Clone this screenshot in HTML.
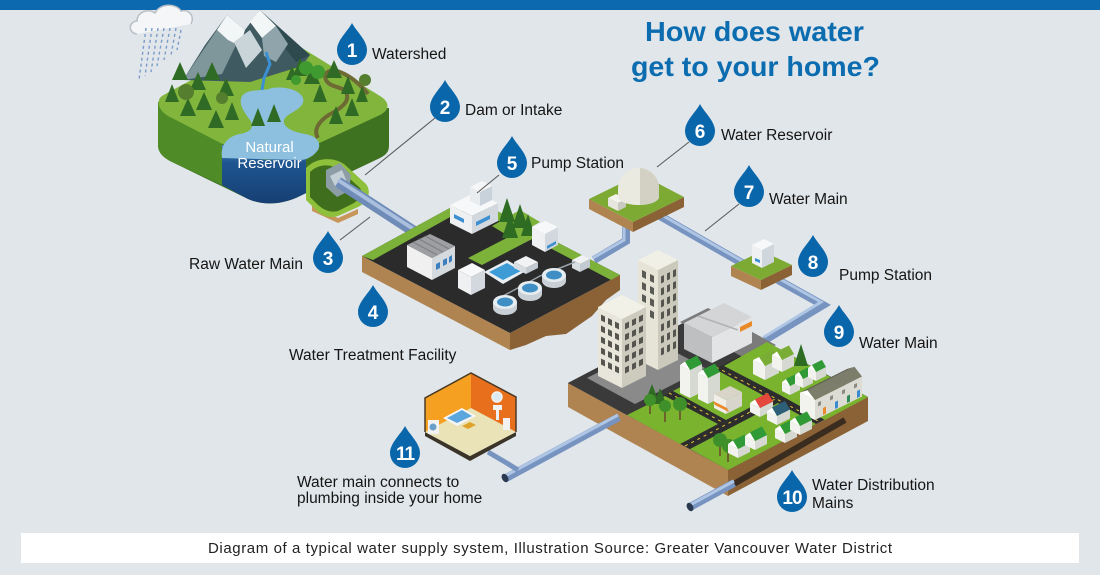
<!DOCTYPE html>
<html><head><meta charset="utf-8"><style>
html,body{margin:0;padding:0;background:#e1e6ea;}
svg{display:block;}
text{font-family:"Liberation Sans",sans-serif;}
</style></head><body>
<svg width="1100" height="575" viewBox="0 0 1100 575" xmlns="http://www.w3.org/2000/svg">
<defs>
<linearGradient id="ww" x1="0" y1="0" x2="0" y2="1"><stop offset="0" stop-color="#4a8fc9"/><stop offset="0.3" stop-color="#1f5590"/><stop offset="1" stop-color="#163f73"/></linearGradient>
<path id="drop" d="M0,-27 C4,-19 15,-10 15,0 A15,15 0 0 1 -15,0 C-15,-10 -4,-19 0,-27 Z"/>
</defs>
<rect width="1100" height="575" fill="#e1e6ea"/>
<rect x="0" y="0" width="1100" height="10" fill="#0c69b0"/>

<!-- cloud and rain -->
<path d="M137,34 C128,33 128,22 137,21 C137,12 148,8 155,13 C160,3 176,3 181,11 C189,9 195,16 191,24" fill="#f4f6f8" stroke="#b9c0c6" stroke-width="1.5"/>
<g stroke="#7b9bc8" stroke-width="1.4" stroke-dasharray="3,3">
<line x1="146" y1="28" x2="139" y2="80"/><line x1="152" y1="28" x2="145" y2="76"/><line x1="158" y1="28" x2="151" y2="72"/><line x1="164" y1="28" x2="157" y2="66"/><line x1="170" y1="28" x2="164" y2="60"/><line x1="176" y1="28" x2="171" y2="55"/><line x1="181" y1="30" x2="177" y2="50"/>
</g>

<!-- island -->
<path d="M158,102 L158,145 C158,153 164,158 172,162 L246,198 C262,206 282,205 300,196 L380,158 C388,154 389,150 389,145 L389,108 Z" fill="#3e7220"/>
<path d="M158,102 L158,145 C158,153 164,158 172,162 L222,185 L222,140 L168,116 Z" fill="#4f8c27"/>
<path d="M222,145 L222,185 L246,198 C262,206 282,205 300,196 L306,193 L306,145 Z" fill="url(#ww)"/>
<path d="M162,96 C190,80 235,58 268,44 C280,40 292,42 302,48 L380,96 C390,102 390,110 380,115 L300,152 C282,160 262,162 246,156 L168,116 C158,110 156,100 162,96 Z" fill="#82b53c"/>
<!-- mountains -->
<path d="M183,80 L205,45 L227,15 L245,30 L260,10 L285,35 L310,55 L302,66 L250,82 Z" fill="#3f5a60"/>
<path d="M183,80 L227,15 L236,45 L222,74 Z" fill="#7f969b"/>
<path d="M260,10 L310,55 L296,62 L272,32 Z" fill="#2f4a4f"/>
<path d="M217,30 L227,15 L245,30 L240,46 L228,40 Z" fill="#f3f6f7"/>
<path d="M250,22 L260,10 L276,26 L262,38 Z" fill="#f3f6f7"/>
<path d="M234,42 L250,30 L262,50 L246,68 Z" fill="#c9d5d8"/>
<path d="M262,38 L276,26 L288,44 L276,62 L264,56 Z" fill="#8fa5ab"/>
<path d="M266,52 L270,64 L264,78 L262,90" fill="none" stroke="#3b8fd3" stroke-width="3"/>
<!-- lake -->
<path d="M222,158 C220,145 228,136 240,134 C250,132 255,128 250,120 C244,112 238,104 242,96 C248,88 262,92 272,88 C285,86 300,90 303,98 C306,108 290,112 285,118 C280,126 292,132 305,134 C316,136 322,142 318,150 C312,158 305,160 300,160 Z" fill="#8cc0de"/>
<!-- trail -->
<path d="M318,138 C312,128 322,118 334,112 C344,106 350,100 346,92 C342,86 330,88 326,80 C322,72 332,68 340,72 C350,76 360,84 368,94" fill="none" stroke="#6d6a33" stroke-width="4"/>
<!-- island trees -->
<g fill="#2f6b24">
<polygon points="180,62 172,80 188,80"/><polygon points="198,72 190,90 206,90"/><polygon points="212,62 204,80 220,80"/><polygon points="226,78 218,96 234,96"/><polygon points="204,92 196,110 212,110"/><polygon points="188,98 180,116 196,116"/><polygon points="232,102 225,120 239,120"/><polygon points="258,108 251,126 265,126"/><polygon points="274,104 267,122 281,122"/><polygon points="312,66 304,84 320,84"/><polygon points="320,84 313,102 327,102"/><polygon points="334,60 326,78 342,78"/><polygon points="348,76 341,94 355,94"/><polygon points="352,98 345,116 359,116"/><polygon points="336,106 329,124 343,124"/><polygon points="300,58 293,76 307,76"/><polygon points="216,110 208,128 224,128"/><polygon points="172,84 165,102 179,102"/><polygon points="362,86 356,102 368,102"/><polygon points="292,66 286,80 298,80"/>
</g>
<g fill="#557f2e"><circle cx="186" cy="92" r="8"/><circle cx="222" cy="98" r="6"/><circle cx="365" cy="80" r="6"/></g>
<g fill="#3f9a2f"><circle cx="306" cy="68" r="7"/><circle cx="318" cy="72" r="7"/><circle cx="296" cy="80" r="5"/></g>
<!-- dam protrusion -->
<path d="M312,206 L338,218 L358,209 L358,214 L338,223 L312,211 Z" fill="#c8955a"/>
<path d="M306,168 C315,158 332,156 344,164 L366,184 C372,192 368,202 358,207 L338,216 C330,219 322,216 316,210 L306,200 Z" fill="#8fc03c"/>
<path d="M310,172 C318,164 330,163 340,170 L360,188 C363,194 360,200 352,204 L338,211 C330,213 324,210 318,205 L310,197 Z" fill="#3f6e1d"/>
<path d="M326,170 L340,163 L351,175 L349,191 L337,197 L326,187 Z" fill="#8d9da6"/>
<path d="M330,176 L342,170 L347,182 L336,188 Z" fill="#c5d0d6"/>
<text x="269.5" y="152" font-size="15" fill="#ffffff" text-anchor="middle">Natural</text>
<text x="269.5" y="168" font-size="15" fill="#ffffff" text-anchor="middle">Reservoir</text>

<!-- raw water pipe -->
<line x1="338" y1="182" x2="418" y2="234" stroke="#6f8cb8" stroke-width="11"/>
<line x1="338" y1="180" x2="418" y2="232" stroke="#a9bfdd" stroke-width="4"/>

<!-- pipe plant -> reservoir -->
<polyline points="594,260 626,241 626,222" fill="none" stroke="#7793c0" stroke-width="8"/>
<polyline points="593,258 624,240 624,222" fill="none" stroke="#aec5e4" stroke-width="3"/>
<!-- pipe reservoir -> pump8 -->
<line x1="660" y1="216" x2="742" y2="263" stroke="#7793c0" stroke-width="8"/>
<line x1="660" y1="214" x2="742" y2="261" stroke="#aec5e4" stroke-width="3"/>
<!-- pipe pump8 -> city -->
<polyline points="778,280 823,305 765,340" fill="none" stroke="#7793c0" stroke-width="8"/>
<polyline points="778,278 821,302 764,337" fill="none" stroke="#aec5e4" stroke-width="3"/>

<!-- treatment plant -->
<polygon points="362,256 510,333 510,350 362,272" fill="#b08450"/>
<polygon points="510,333 620,275 620,290 606,300 592,316 566,334 546,336 526,345 510,350" fill="#8a6236"/>
<polygon points="362,256 470,197 620,275 510,333" fill="#2b2b2b"/>
<polygon points="362,256 470,197 620,275 611,280 470,206 373,260" fill="#7cb13a"/>
<polygon points="468,258 522,230 536,237 482,265" fill="#7cb13a"/>
<polygon points="492,226 520,210 540,222 512,238" fill="#7cb13a"/>
<g fill="#2e6b23"><polygon points="507,198 499,222 515,222"/><polygon points="520,204 512,228 528,228"/><polygon points="510,214 502,238 518,238"/><polygon points="528,214 521,236 535,236"/></g>
<!-- pump station 5 -->
<polygon points="450,205 472,216 472,234 450,223" fill="#eef0f2"/>
<polygon points="472,216 498,203 498,221 472,234" fill="#d2d8de"/>
<polygon points="450,205 472,216 498,203 476,192" fill="#f7f8f9"/>
<polygon points="470,187 480,192 480,206 470,201" fill="#e9edf0"/>
<polygon points="480,192 492,186 492,200 480,206" fill="#c9d2da"/>
<polygon points="470,187 480,192 492,186 482,181" fill="#f5f6f7"/>
<polygon points="476,222 490,215 490,219 476,226" fill="#3c8fd0"/>
<polygon points="454,214 464,219 464,223 454,218" fill="#3c8fd0"/>
<!-- warehouse -->
<polygon points="407,245 432,258 432,280 407,267" fill="#f0f0f0"/>
<polygon points="432,258 455,246 455,268 432,280" fill="#d5dadf"/>
<polygon points="407,245 432,258 455,246 430,234" fill="#9d9fa2"/>
<g stroke="#7d7f82" stroke-width="1"><line x1="413" y1="242" x2="437" y2="255"/><line x1="419" y1="239" x2="443" y2="252"/><line x1="425" y1="236" x2="449" y2="249"/></g>
<g fill="#3c7fc0"><polygon points="436,264 440,262 440,268 436,270"/><polygon points="443,260 447,258 447,264 443,266"/><polygon points="449,257 452,255 452,261 449,263"/></g>
<!-- small building -->
<polygon points="458,270 471,277 471,295 458,288" fill="#eef0f2"/>
<polygon points="471,277 485,270 485,288 471,295" fill="#d2d8de"/>
<polygon points="458,270 471,277 485,270 472,263" fill="#f7f8f9"/>
<!-- right building -->
<polygon points="532,227 545,234 545,252 532,245" fill="#eef0f2"/>
<polygon points="545,234 558,227 558,245 545,252" fill="#d2d8de"/>
<polygon points="532,227 545,234 558,227 545,221" fill="#f7f8f9"/>
<polygon points="547,246 556,241 556,244 547,249" fill="#3c8fd0"/>
<!-- pool -->
<polygon points="484,272 507,260 526,271 503,284" fill="#e8eef2"/>
<polygon points="489,272 507,263 521,271 503,280" fill="#3d9bd6"/>
<!-- equipment -->
<polygon points="514,262 526,268 538,262 526,256" fill="#f0f2f4"/><polygon points="514,262 526,268 526,274 514,268" fill="#d8dde2"/><polygon points="526,268 538,262 538,268 526,274" fill="#c3cad1"/>
<polygon points="572,260 580,264 590,259 582,255" fill="#f0f2f4"/><polygon points="572,260 580,264 580,272 572,268" fill="#d8dde2"/><polygon points="580,264 590,259 590,267 580,272" fill="#c3cad1"/>
<polyline points="503,296 540,276 575,262" fill="none" stroke="#9aa3aa" stroke-width="1.5"/>
<!-- clarifiers -->
<g>
<path d="M493,302 L493,308 A12,7 0 0 0 517,308 L517,302 Z" fill="#c8d0d6"/><ellipse cx="505" cy="302" rx="12" ry="7" fill="#e6edf1"/><ellipse cx="505" cy="302" rx="8" ry="4.5" fill="#3f8fc4"/>
<path d="M518,288 L518,294 A12,7 0 0 0 542,294 L542,288 Z" fill="#c8d0d6"/><ellipse cx="530" cy="288" rx="12" ry="7" fill="#e6edf1"/><ellipse cx="530" cy="288" rx="8" ry="4.5" fill="#3f8fc4"/>
<path d="M542,275 L542,281 A12,7 0 0 0 566,281 L566,275 Z" fill="#c8d0d6"/><ellipse cx="554" cy="275" rx="12" ry="7" fill="#e6edf1"/><ellipse cx="554" cy="275" rx="8" ry="4.5" fill="#3f8fc4"/>
</g>

<!-- water reservoir slab -->
<polygon points="589,199 633,222 633,232 589,209" fill="#b08450"/>
<polygon points="633,222 684,197 684,207 633,232" fill="#8a6236"/>
<polygon points="589,199 640,174 684,197 633,222" fill="#7caa33"/>
<polygon points="608,198 618,203 618,211 608,206" fill="#e6e6de"/>
<polygon points="618,203 626,199 626,207 618,211" fill="#c9c9bf"/>
<polygon points="608,198 618,203 626,199 616,194" fill="#f4f4ef"/>
<path d="M618,188 A20.5,20 0 0 1 659,188 L659,197 A20.5,8 0 0 1 618,197 Z" fill="#ebeae1"/>
<path d="M640,168 A20.5,20 0 0 1 659,188 L659,197 A20.5,8 0 0 1 640,205 Z" fill="#d3d1c4"/>

<!-- pump station 8 slab -->
<polygon points="731,266 761,280 761,290 731,276" fill="#b08450"/>
<polygon points="761,280 792,265 792,275 761,290" fill="#8a6236"/>
<polygon points="731,266 762,251 792,265 761,280" fill="#7caa33"/>
<polygon points="752,245 762,250 762,268 752,263" fill="#eef0f2"/>
<polygon points="762,250 774,244 774,262 762,268" fill="#cfd6dc"/>
<polygon points="752,245 762,250 774,244 764,239" fill="#f7f8f9"/>
<polygon points="755,258 760,260 760,263 755,261" fill="#3c8fd0"/>

<!-- city slab -->
<polygon points="568,383 728,470 728,496 568,407" fill="#b08450"/>
<polygon points="728,470 868,397 868,421 728,496" fill="#8a6236"/>
<polygon points="568,383 708,310 868,397 728,470" fill="#2d2d2d"/>
<polygon points="568,383 708,310 767,342 627,415" fill="#3a3a3a"/>
<polygon points="587,378 657,342 705,368 635,404" fill="#8a8a8a"/>
<polygon points="680,322 708,308 776,345 748,360" fill="#7b7b7b"/>
<g fill="#7ab32e">
<polygon points="627,415 680,444 718,424 665,396"/>
<polygon points="673,391 726,420 768,398 715,369"/>
<polygon points="690,449 728,470 816,424 778,403"/>
<polygon points="780,395 825,420 868,397 823,373"/>
<polygon points="724,366 780,395 823,373 767,342"/>
</g>
<g stroke="#e9c53a" stroke-width="1" stroke-dasharray="3,4" fill="none">
<line x1="716" y1="367" x2="820" y2="422"/><line x1="685" y1="446" x2="777" y2="398"/><line x1="669" y1="393" x2="722" y2="422"/>
</g>
<!-- commercial building -->
<polygon points="684,323 712,337 712,363 684,349" fill="#bdbfc1"/>
<polygon points="712,337 752,317 752,343 712,363" fill="#e3e4e5"/>
<polygon points="684,323 712,337 752,317 724,303" fill="#d4d5d6"/>
<line x1="698" y1="316" x2="738" y2="330" stroke="#b0b2b4" stroke-width="1.5"/>
<polygon points="740,327 752,321 752,326 740,332" fill="#e8892a"/>
<!-- towers -->
<g transform="matrix(1,0.5,0,1,638,260)"><rect width="20" height="100" fill="#e6e4d6"/><g fill="#5a5a55"><rect x="4" y="8" width="4" height="7"/><rect x="12" y="8" width="4" height="7"/><rect x="4" y="20" width="4" height="7"/><rect x="12" y="20" width="4" height="7"/><rect x="4" y="32" width="4" height="7"/><rect x="12" y="32" width="4" height="7"/><rect x="4" y="44" width="4" height="7"/><rect x="12" y="44" width="4" height="7"/></g></g>
<g transform="matrix(1,-0.5,0,1,658,270)"><rect width="20" height="100" fill="#cbc9bb"/><g fill="#55554f"><rect x="3" y="8" width="3" height="7"/><rect x="9" y="8" width="3" height="7"/><rect x="15" y="8" width="3" height="7"/><rect x="3" y="20" width="3" height="7"/><rect x="9" y="20" width="3" height="7"/><rect x="15" y="20" width="3" height="7"/><rect x="3" y="32" width="3" height="7"/><rect x="9" y="32" width="3" height="7"/><rect x="15" y="32" width="3" height="7"/><rect x="3" y="44" width="3" height="7"/><rect x="9" y="44" width="3" height="7"/><rect x="15" y="44" width="3" height="7"/><rect x="3" y="56" width="3" height="7"/><rect x="9" y="56" width="3" height="7"/><rect x="15" y="56" width="3" height="7"/><rect x="3" y="68" width="3" height="7"/><rect x="9" y="68" width="3" height="7"/><rect x="15" y="68" width="3" height="7"/><rect x="3" y="80" width="3" height="7"/><rect x="9" y="80" width="3" height="7"/><rect x="15" y="80" width="3" height="7"/></g></g>
<polygon points="638,260 658,270 678,260 658,250" fill="#f1f0e6"/>
<g transform="matrix(1,0.5,0,1,598,307)"><rect width="24" height="69" fill="#e8e6da"/><g fill="#55554f"><rect x="3" y="6" width="4" height="6"/><rect x="10" y="6" width="4" height="6"/><rect x="17" y="6" width="4" height="6"/><rect x="3" y="17" width="4" height="6"/><rect x="10" y="17" width="4" height="6"/><rect x="17" y="17" width="4" height="6"/><rect x="3" y="28" width="4" height="6"/><rect x="10" y="28" width="4" height="6"/><rect x="17" y="28" width="4" height="6"/><rect x="3" y="39" width="4" height="6"/><rect x="10" y="39" width="4" height="6"/><rect x="17" y="39" width="4" height="6"/><rect x="3" y="50" width="4" height="6"/><rect x="10" y="50" width="4" height="6"/><rect x="17" y="50" width="4" height="6"/></g></g>
<g transform="matrix(1,-0.5,0,1,622,319)"><rect width="24" height="69" fill="#cdcbbd"/><g fill="#55554f"><rect x="3" y="6" width="4" height="6"/><rect x="10" y="6" width="4" height="6"/><rect x="17" y="6" width="4" height="6"/><rect x="3" y="17" width="4" height="6"/><rect x="10" y="17" width="4" height="6"/><rect x="17" y="17" width="4" height="6"/><rect x="3" y="28" width="4" height="6"/><rect x="10" y="28" width="4" height="6"/><rect x="17" y="28" width="4" height="6"/><rect x="3" y="39" width="4" height="6"/><rect x="10" y="39" width="4" height="6"/><rect x="17" y="39" width="4" height="6"/><rect x="3" y="50" width="4" height="6"/><rect x="10" y="50" width="4" height="6"/><rect x="17" y="50" width="4" height="6"/></g></g>
<polygon points="598,307 622,319 646,307 622,295" fill="#f2f1e8"/>

<!-- city trees -->
<g fill="#2e6b23"><polygon points="652,384 646,400 658,400"/><polygon points="660,388 654,404 666,404"/><polygon points="801,344 794,366 808,366"/></g>
<g stroke="#6b4a2a" stroke-width="1.5"><line x1="650" y1="405" x2="650" y2="414"/><line x1="680" y1="410" x2="680" y2="420"/><line x1="665" y1="412" x2="665" y2="422"/><line x1="720" y1="445" x2="720" y2="456"/><line x1="728" y1="450" x2="728" y2="462"/></g>
<g fill="#3f8f2a"><circle cx="650" cy="400" r="6"/><circle cx="665" cy="406" r="6"/><circle cx="680" cy="404" r="7"/><circle cx="720" cy="440" r="7"/><circle cx="729" cy="446" r="7"/></g>

<!-- houses -->
<g>
<polygon points="680,365 690,370 690,398 680,393" fill="#f2f2ee"/><polygon points="690,370 702,364 702,392 690,398" fill="#d6d8d2"/>
<polygon points="680,365 692,359 697,355.5 685,361.5" fill="#1f7a2a"/><polygon points="685,361.5 697,355.5 702,364 690,370" fill="#2f9a36"/><polygon points="680,365 690,370 685,361.5" fill="#ffffff"/>
<polygon points="698,373 708,378 708,404 698,399" fill="#f2f2ee"/><polygon points="708,378 720,372 720,398 708,404" fill="#d6d8d2"/>
<polygon points="698,373 710,367 715,363.5 703,369.5" fill="#1f7a2a"/><polygon points="703,369.5 715,363.5 720,372 708,378" fill="#2f9a36"/><polygon points="698,373 708,378 703,369.5" fill="#ffffff"/>
<polygon points="714,394 726,400 726,414 714,408" fill="#f0eee6"/><polygon points="726,400 742,392 742,406 726,414" fill="#d8d6cc"/><polygon points="714,394 726,400 742,392 730,386" fill="#d8d4c8"/>
<polygon points="713,401 727,408 729,412 715,405" fill="#e8892a"/>
<polygon points="753,360 765,366 765,380 753,374" fill="#f2f2ee"/><polygon points="765,366 779,359 779,373 765,380" fill="#d6d8d2"/>
<polygon points="753,360 767,353 773,350 759,357" fill="#5e8f2a"/><polygon points="759,357 773,350 779,359 765,366" fill="#7aad36"/><polygon points="753,360 765,366 759,357" fill="#ffffff"/>
<polygon points="772,355 782,360 782,372 772,367" fill="#f2f2ee"/><polygon points="782,360 794,354 794,366 782,372" fill="#d6d8d2"/>
<polygon points="772,355 784,349 789,345.5 777,351.5" fill="#5e8f2a"/><polygon points="777,351.5 789,345.5 794,354 782,360" fill="#7aad36"/><polygon points="772,355 782,360 777,351.5" fill="#ffffff"/>
<polygon points="782,382 790,386 790,395 782,391" fill="#f2f2ee"/><polygon points="790,386 800,381 800,390 790,395" fill="#d6d8d2"/>
<polygon points="782,382 792,377 796,374 786,379" fill="#1f7a2a"/><polygon points="786,379 796,374 800,381 790,386" fill="#2f9a36"/><polygon points="782,382 790,386 786,379" fill="#fff"/>
<polygon points="795,375 803,379 803,388 795,384" fill="#f2f2ee"/><polygon points="803,379 813,374 813,383 803,388" fill="#d6d8d2"/>
<polygon points="795,375 805,370 809,367 799,372" fill="#1f7a2a"/><polygon points="799,372 809,367 813,374 803,379" fill="#2f9a36"/><polygon points="795,375 803,379 799,372" fill="#fff"/>
<polygon points="808,368 816,372 816,381 808,377" fill="#f2f2ee"/><polygon points="816,372 826,367 826,376 816,381" fill="#d6d8d2"/>
<polygon points="808,368 818,363 822,360 812,365" fill="#1f7a2a"/><polygon points="812,365 822,360 826,367 816,372" fill="#2f9a36"/><polygon points="808,368 816,372 812,365" fill="#fff"/>
<polygon points="800,392.5 815,400 815,420 800,412.5" fill="#f2f2ee"/>
<g transform="matrix(1,-0.5,0,1,815,400)"><rect width="47" height="20" fill="#dcdcd4"/><g fill="#8a8a80"><rect x="3" y="4" width="3" height="4"/><rect x="15" y="4" width="3" height="4"/><rect x="27" y="4" width="3" height="4"/><rect x="39" y="4" width="3" height="4"/></g><rect x="8" y="12" width="3" height="7" fill="#e8892a"/><rect x="20" y="12" width="3" height="7" fill="#3a8ad0"/><rect x="32" y="12" width="3" height="7" fill="#2e8b57"/><rect x="42" y="12" width="3" height="7" fill="#3a8ad0"/></g>
<polygon points="800,392.5 847,369 854.5,366.75 807.5,390.25" fill="#5f5f52"/>
<polygon points="807.5,390.25 854.5,366.75 862,376.5 815,400" fill="#7d7d6c"/>
<polygon points="800,392.5 815,400 807.5,390.25" fill="#fff"/>
<polygon points="750,403 760,408 760,417 750,412" fill="#f2f2ee"/><polygon points="760,408 773,401.5 773,410.5 760,417" fill="#d6d8d2"/>
<polygon points="750,403 763,396.5 768,393 755,399.5" fill="#b83328"/><polygon points="755,399.5 768,393 773,401.5 760,408" fill="#e4473b"/><polygon points="750,403 760,408 755,399.5" fill="#fff"/>
<polygon points="767,411 777,416 777,425 767,420" fill="#f2f2ee"/><polygon points="777,416 790,409.5 790,418.5 777,425" fill="#d6d8d2"/>
<polygon points="767,411 780,404.5 785,401 772,407.5" fill="#1f4558"/><polygon points="772,407.5 785,401 790,409.5 777,416" fill="#2d5f78"/><polygon points="767,411 777,416 772,407.5" fill="#fff"/>
<polygon points="775,429 785,434 785,443 775,438" fill="#f2f2ee"/><polygon points="785,434 797,428 797,437 785,443" fill="#d6d8d2"/>
<polygon points="775,429 787,423 792,419.5 780,425.5" fill="#1f7a2a"/><polygon points="780,425.5 792,419.5 797,428 785,434" fill="#2f9a36"/><polygon points="775,429 785,434 780,425.5" fill="#fff"/>
<polygon points="790,421 800,426 800,435 790,430" fill="#f2f2ee"/><polygon points="800,426 812,420 812,429 800,435" fill="#d6d8d2"/>
<polygon points="790,421 802,415 807,411.5 795,417.5" fill="#1f7a2a"/><polygon points="795,417.5 807,411.5 812,420 800,426" fill="#2f9a36"/><polygon points="790,421 800,426 795,417.5" fill="#fff"/>
<polygon points="728,444 738,449 738,458 728,453" fill="#f2f2ee"/><polygon points="738,449 750,443 750,452 738,458" fill="#d6d8d2"/>
<polygon points="728,444 740,438 745,434.5 733,440.5" fill="#1f7a2a"/><polygon points="733,440.5 745,434.5 750,443 738,449" fill="#2f9a36"/><polygon points="728,444 738,449 733,440.5" fill="#fff"/>
<polygon points="745,436 755,441 755,450 745,445" fill="#f2f2ee"/><polygon points="755,441 767,435 767,444 755,450" fill="#d6d8d2"/>
<polygon points="745,436 757,430 762,426.5 750,432.5" fill="#1f7a2a"/><polygon points="750,432.5 762,426.5 767,435 755,441" fill="#2f9a36"/><polygon points="745,436 755,441 750,432.5" fill="#fff"/>
</g>

<!-- pipe city -> home -->
<line x1="619" y1="417" x2="506" y2="478" stroke="#7793c0" stroke-width="8"/>
<line x1="618" y1="415" x2="505" y2="476" stroke="#aec5e4" stroke-width="3"/>
<ellipse cx="505" cy="478" rx="3" ry="4.5" fill="#2a3950" transform="rotate(-30 505 478)"/>
<!-- front distribution pipe -->
<line x1="732" y1="485" x2="845" y2="420" stroke="#3a2c1e" stroke-width="6"/>
<line x1="690" y1="507" x2="734" y2="483" stroke="#7793c0" stroke-width="8"/>
<line x1="690" y1="505" x2="734" y2="481" stroke="#aec5e4" stroke-width="3"/>
<ellipse cx="690" cy="507" rx="3" ry="4.5" fill="#2a3950" transform="rotate(-30 690 507)"/>

<!-- home cutaway -->
<polyline points="488,452 505,462 518,470" fill="none" stroke="#7793c0" stroke-width="5"/>
<polygon points="425,432 470,456 516,432 516,436 470,461 425,436" fill="#3b3428"/>
<polygon points="425,432 471,408 516,432 470,456" fill="#ebe3b8"/>
<polygon points="425,398 471,373 471,408 425,432" fill="#f5a021"/>
<polygon points="471,373 516,397 516,432 471,408" fill="#e8701c"/>
<polyline points="425,432 425,398 471,373 516,397 516,432" fill="none" stroke="#4a3a24" stroke-width="1.5"/>
<polygon points="443,418 462,408 476,416 457,426" fill="#f6f6f6"/>
<polygon points="447,418 462,410 472,416 457,423" fill="#5aa6dd"/>
<polygon points="462,426 470,422 476,425 468,429" fill="#e0a32a"/>
<rect x="428" y="420" width="11" height="14" fill="#f2f2f2"/><circle cx="433" cy="427" r="3.5" fill="#6aa0c8"/>
<circle cx="497" cy="397" r="5" fill="#dbeaf3" stroke="#f2f2f2" stroke-width="1.5"/>
<rect x="493" y="405" width="9" height="5" fill="#f2f2f2"/><rect x="496" y="410" width="3" height="10" fill="#eee"/>
<rect x="503" y="418" width="7" height="12" fill="#f2f2f2"/>

<!-- connector lines -->
<g stroke="#5a5a5a" stroke-width="1.1">
<line x1="435" y1="118" x2="365" y2="175"/>
<line x1="340" y1="240" x2="370" y2="217"/>
<line x1="499" y1="175" x2="477" y2="193"/>
<line x1="689" y1="142" x2="657" y2="167"/>
<line x1="739" y1="204" x2="705" y2="231"/>
</g>

<!-- drops -->
<g fill="#0a66aa">
<use href="#drop" x="352" y="50"/><use href="#drop" x="445" y="107"/><use href="#drop" x="512" y="163"/><use href="#drop" x="328" y="258"/><use href="#drop" x="373" y="312"/><use href="#drop" x="405" y="453"/><use href="#drop" x="700" y="131"/><use href="#drop" x="749" y="192"/><use href="#drop" x="813" y="262"/><use href="#drop" x="839" y="332"/><use href="#drop" x="792" y="497"/>
</g>
<g fill="#ffffff" font-size="19" font-weight="bold" text-anchor="middle">
<text x="352" y="57">1</text><text x="445" y="114">2</text><text x="512" y="170">5</text><text x="328" y="265">3</text><text x="373" y="319">4</text><text x="405" y="460" letter-spacing="-1">11</text><text x="700" y="138">6</text><text x="749" y="199">7</text><text x="813" y="269">8</text><text x="839" y="339">9</text><text x="792" y="504" letter-spacing="-1">10</text>
</g>

<!-- labels -->
<g fill="#151515" font-size="15.5">
<text x="372" y="59">Watershed</text>
<text x="465" y="115">Dam or Intake</text>
<text x="531" y="168">Pump Station</text>
<text x="189" y="269">Raw Water Main</text>
<text x="289" y="360">Water Treatment Facility</text>
<text x="297" y="487">Water main connects to</text>
<text x="297" y="503">plumbing inside your home</text>
<text x="721" y="140">Water Reservoir</text>
<text x="769" y="204">Water Main</text>
<text x="839" y="280">Pump Station</text>
<text x="859" y="348">Water Main</text>
<text x="812" y="490">Water Distribution</text>
<text x="812" y="508">Mains</text>
</g>

<!-- title -->
<g fill="#0c6cb0" font-size="28" font-weight="bold">
<text x="645" y="41" textLength="219" lengthAdjust="spacingAndGlyphs">How does water</text>
<text x="631" y="76" textLength="249" lengthAdjust="spacingAndGlyphs">get to your home?</text>
</g>

<!-- caption -->
<rect x="21" y="533" width="1058" height="30" fill="#ffffff"/>
<text x="208" y="553" font-size="15" fill="#222" textLength="684" lengthAdjust="spacing">Diagram of a typical water supply system,  Illustration Source: Greater Vancouver Water District</text>
</svg>
</body></html>
